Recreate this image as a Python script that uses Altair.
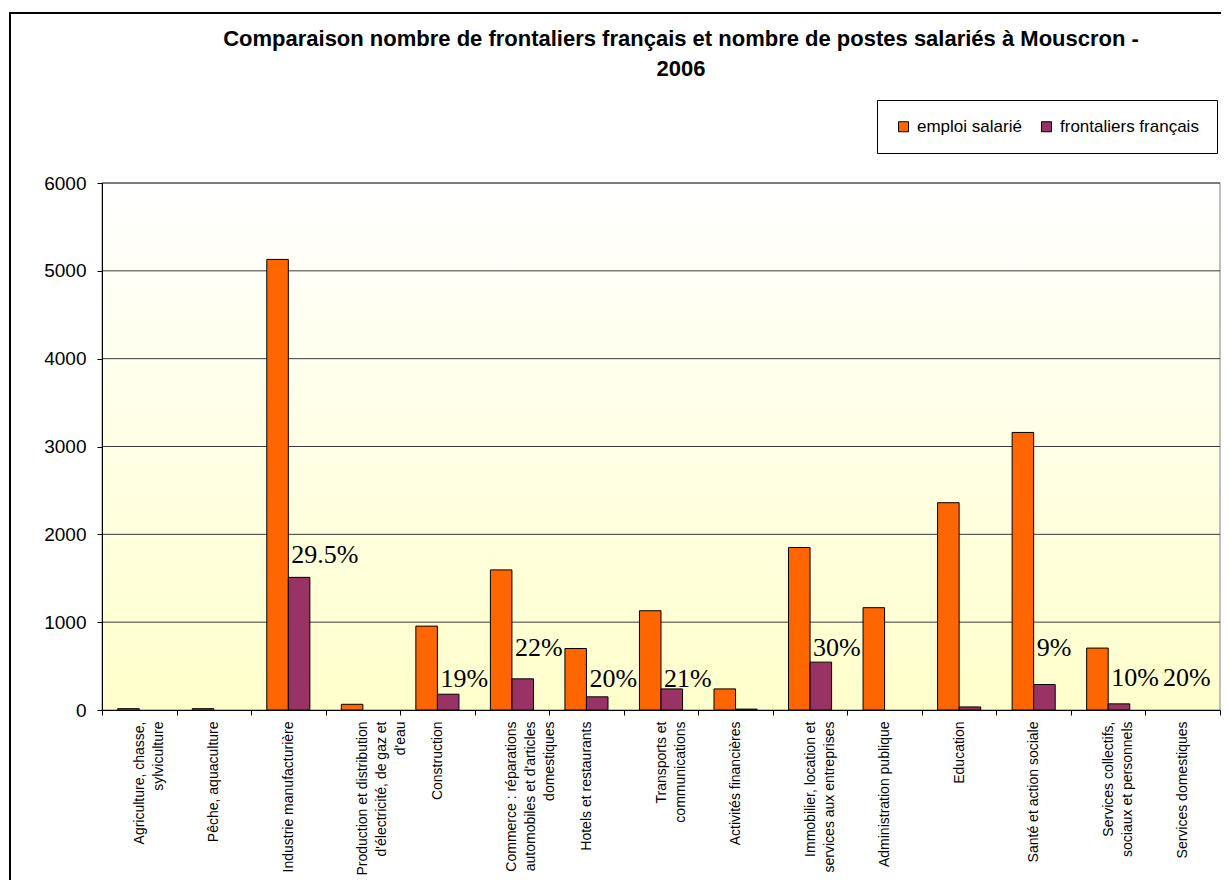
import altair as alt
import pandas as pd

# ---------------- data ----------------
categories = [
    "Agriculture, chasse,|sylviculture",
    "Pêche, aquaculture",
    "Industrie manufacturière",
    "Production et distribution|d'électricité, de gaz et|d'eau",
    "Construction",
    "Commerce : réparations|automobiles et d'articles|domestiques",
    "Hotels et restaurants",
    "Transports et|communications",
    "Activités financières",
    "Immobilier, location et|services aux entreprises",
    "Administration publique",
    "Education",
    "Santé et action sociale",
    "Services collectifs,|sociaux et personnels",
    "Services domestiques",
]
emploi = [15, 15, 5130, 65, 955, 1595, 700, 1130, 240, 1850, 1165, 2360, 3160, 705, 0]
frontaliers = [0, 0, 1510, 0, 180, 355, 150, 240, 10, 545, 0, 35, 290, 70, 0]
pct_labels = ["", "", "29.5%", "", "19%", "22%", "20%", "21%", "", "30%", "", "", "9%", "10%", "20%"]
pct_heights = [0, 0, 1675, 0, 265, 615, 265, 265, 0, 615, 0, 0, 615, 270, 270]
y_ticks = [0, 1000, 2000, 3000, 4000, 5000, 6000]
series_names = ["emploi salarié", "frontaliers français"]
series_colors = ["#FF6600", "#993366"]
title_lines = [
    "Comparaison nombre de frontaliers français et nombre de postes salariés à Mouscron -",
    "2006",
]

# ---------------- tables ----------------
bar_rows = []
for i, c in enumerate(categories):
    bar_rows.append({"cat": c, "series": series_names[0], "value": emploi[i]})
    bar_rows.append({"cat": c, "series": series_names[1], "value": frontaliers[i]})
bars_df = pd.DataFrame(bar_rows)

lab_rows = [
    {"cat": categories[i], "pct": pct_labels[i], "h": pct_heights[i]}
    for i in range(len(categories)) if pct_labels[i]
]
labels_df = pd.DataFrame(lab_rows)

FONT = "Liberation Sans"
W, H = 1118, 527

yscale = alt.Scale(domain=[0, 6000], nice=False)
xscale = alt.Scale(paddingInner=0, paddingOuter=0)

x_axis = alt.Axis(
    title=None, labelAngle=-90, labelFontSize=14, labelFont=FONT, labelColor="black",
    labelLineHeight=19, labelExpr="split(datum.label, '|')", tickBand="extent",
    tickSize=5, tickColor="black", domainColor="black", labelPadding=6,
    labelLimit=400, labelOverlap=False, zindex=1,
)
y_axis = alt.Axis(
    title=None, values=y_ticks, grid=False, labelFontSize=19, labelFont=FONT,
    labelColor="black", tickSize=5, tickColor="black", domainColor="black",
    labelPadding=11, zindex=1, format="d",
)


def xenc():
    return alt.X("cat:N", sort=categories, scale=xscale, axis=x_axis)


def yenc(field):
    return alt.Y(f"{field}:Q", scale=yscale, axis=y_axis)


background = alt.Chart(alt.Data(values=[{}])).mark_rect(
    fill=alt.Gradient(
        gradient="linear",
        stops=[alt.GradientStop(color="#FFFFFF", offset=0),
               alt.GradientStop(color="#FFFFCC", offset=1)],
        x1=0, x2=0, y1=0, y2=1,
    ),
    stroke="#808080", strokeWidth=1,
).encode(x=alt.value(0), x2=alt.value(W), y=alt.value(0), y2=alt.value(H))

grid = alt.Chart(pd.DataFrame({"v": y_ticks[1:]})).mark_rule(
    color="#3a3a3a", strokeWidth=1
).encode(y=yenc("v"))

bars = alt.Chart(bars_df).transform_filter("datum.value > 0").mark_bar(
    stroke="black", strokeWidth=1
).encode(
    x=xenc(),
    xOffset=alt.XOffset("series:N", sort=series_names,
                        scale=alt.Scale(paddingInner=0, paddingOuter=0.73)),
    y=yenc("value"),
    color=alt.Color(
        "series:N",
        scale=alt.Scale(domain=series_names, range=series_colors),
        legend=alt.Legend(
            orient="none", legendX=775, legendY=-83, direction="horizontal",
            title=None, symbolType="square", symbolSize=100,
            symbolStrokeColor="black", symbolStrokeWidth=1,
            labelFontSize=17, labelFont=FONT, labelColor="black",
            strokeColor="black", fillColor="white", padding=18,
            columnPadding=16, labelOffset=5, labelLimit=400,
        ),
    ),
)

txt_main = alt.Chart(labels_df).transform_filter(
    "datum.cat !== 'Services domestiques'"
).mark_text(
    align="left", baseline="alphabetic", dx=3, font="Liberation Serif",
    fontSize=26, color="black",
).encode(x=xenc(), y=yenc("h"), text="pct:N")

txt_last = alt.Chart(labels_df).transform_filter(
    "datum.cat === 'Services domestiques'"
).mark_text(
    align="right", baseline="alphabetic", dx=28, font="Liberation Serif",
    fontSize=26, color="black",
).encode(x=xenc(), y=yenc("h"), text="pct:N")

title = alt.Chart(alt.Data(values=[{}])).mark_text(
    text=title_lines, font=FONT, fontSize=22, fontWeight="bold",
    lineHeight=30, align="center", baseline="alphabetic", color="black",
).encode(x=alt.value(579), y=alt.value(-137))

frame = alt.Chart(alt.Data(values=[{}])).mark_rect(
    fillOpacity=0, stroke="black", strokeWidth=2
).encode(x=alt.value(-92), x2=alt.value(1300), y=alt.value(-170), y2=alt.value(1000))

chart = alt.layer(background, grid, bars, txt_main, txt_last, title, frame).properties(
    width=W, height=H,
    autosize=alt.AutoSizeParams(type="none"),
    padding={"left": 94, "top": 175, "right": 1, "bottom": 170},
    background="white",
).configure_view(strokeWidth=0)

chart.save("out.html", embed_options={"renderer": "svg", "actions": False})
